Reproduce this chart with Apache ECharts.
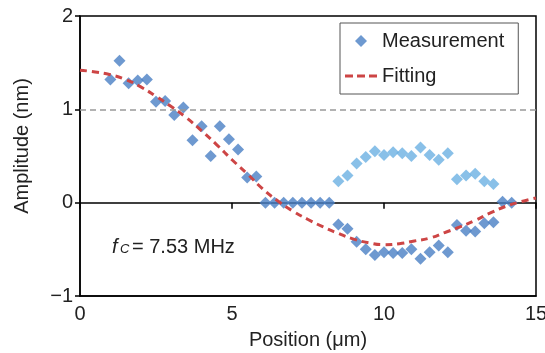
<!DOCTYPE html>
<html>
<head>
<meta charset="utf-8">
<script src="https://cdn.jsdelivr.net/npm/echarts@6/dist/echarts.min.js"></script>
<style>
  html, body { margin: 0; padding: 0; background: #fff; }
  #chart { width: 545px; height: 353px; }
</style>
</head>
<body>
<div id="chart"></div>
<script>
// measured positions (µm)
const positions = [1.0, 1.3, 1.6, 1.9, 2.2, 2.5, 2.8, 3.1, 3.4, 3.7, 4.0, 4.3, 4.6, 4.9, 5.2, 5.5, 5.8,
    6.1, 6.4, 6.7, 7.0, 7.3, 7.6, 7.9, 8.2, 8.5, 8.8, 9.1, 9.4, 9.7, 10.0, 10.3, 10.6, 10.9, 11.2,
    11.5, 11.8, 12.1, 12.4, 12.7, 13.0, 13.3, 13.6, 13.9, 14.2];
const measured = [1.32, 1.52, 1.28, 1.31, 1.32, 1.08, 1.09, 0.94, 1.02, 0.67, 0.82, 0.50, 0.82, 0.68, 0.57, 0.27, 0.28,
    0, 0, 0, 0, 0, 0, 0, 0, -0.235, -0.28, -0.42, -0.50, -0.56, -0.53, -0.54, -0.54, -0.50, -0.60,
    -0.53, -0.46, -0.53, -0.24, -0.30, -0.31, -0.22, -0.21, 0.01, 0.0];
// mirrored (light) points
const mirrorPositions = [8.5, 8.8, 9.1, 9.4, 9.7, 10.0, 10.3, 10.6, 10.9, 11.2, 11.5, 11.8, 12.1, 12.4, 12.7, 13.0, 13.3, 13.6];
const mirrored = [0.23, 0.29, 0.42, 0.49, 0.55, 0.51, 0.54, 0.53, 0.50, 0.59, 0.51, 0.46, 0.53, 0.25, 0.29, 0.31, 0.23, 0.20];
// fitting curve
const fitX = [0, 0.5, 1, 1.5, 2, 2.5, 3, 3.5, 4, 4.5, 5, 5.5, 6, 6.5, 7, 7.5, 8, 8.5, 9, 9.5, 10,
    10.5, 11, 11.5, 12, 12.5, 13, 13.5, 14, 14.5, 15];
const fitY = [1.42, 1.40, 1.37, 1.32, 1.24, 1.14, 1.03, 0.91, 0.77, 0.62, 0.46, 0.31, 0.15, 0.02, -0.09, -0.18, -0.26,
    -0.33, -0.39, -0.43, -0.45, -0.44, -0.41, -0.38, -0.32, -0.26, -0.19, -0.11, -0.04, 0.01, 0.05];
const xTicks = [0, 5, 10, 15];
const yTicks = [-1, 0, 1, 2];

const FONT = 'Liberation Sans, Arial, sans-serif';
const RED = '#CD4545';
const chart = echarts.init(document.getElementById('chart'));

const zip = (xs, ys) => xs.map((x, i) => [x, ys[i]]);

const option = {
    animation: false,
    textStyle: { fontFamily: FONT },
    grid: {
        left: 80, right: 9, top: 16, bottom: 57,
        outerBoundsMode: 'none', containLabel: false,
        show: true, borderColor: '#000', borderWidth: 1.5
    },
    legend: {
        orient: 'vertical',
        left: 340, top: 23,
        padding: [8, 14, 8, 5],
        itemWidth: 32, itemHeight: 12, itemGap: 15,
        symbolKeepAspect: true,
        borderColor: '#555', borderWidth: 1,
        textStyle: { fontSize: 20, color: '#222', fontFamily: FONT },
        data: [
            { name: 'Measurement', icon: 'path://M5,0L10,5L5,10L0,5Z' },
            // dashed line icon, three dashes
            { name: 'Fitting', icon: 'path://M0,0h8v3h-8zM12,0h8v3h-8zM24,0h8v3h-8z', itemStyle: { color: RED } }
        ]
    },
    xAxis: [{
        type: 'value', min: xTicks[0], max: xTicks[xTicks.length - 1], interval: 5,
        position: 'bottom',
        axisLine: { onZero: false, lineStyle: { color: '#000', width: 1.5 } },
        axisTick: { show: false },
        splitLine: { show: false },
        axisLabel: { fontSize: 20, color: '#222', margin: 8 },
        name: 'Position (μm)', nameLocation: 'middle', nameGap: 34,
        nameTextStyle: { fontSize: 20, color: '#222' }
    }, {
        type: 'value', min: xTicks[0], max: xTicks[xTicks.length - 1], interval: 5,
        position: 'bottom',
        axisLine: { onZero: true, lineStyle: { color: '#000', width: 1.5 } },
        axisTick: { show: true, length: 6, lineStyle: { color: '#000', width: 1.5 } },
        splitLine: { show: false },
        axisLabel: { show: false }
    }],
    yAxis: {
        type: 'value', min: yTicks[0], max: yTicks[yTicks.length - 1], interval: 1,
        axisLine: { show: true, lineStyle: { color: '#000', width: 1.5 } },
        axisTick: { show: true, length: 5, lineStyle: { color: '#000', width: 1.5 } },
        splitLine: { show: false },
        axisLabel: {
            fontSize: 20, color: '#222', margin: 7,
            formatter: v => (v < 0 ? '\u2212' + Math.abs(v) : String(v))
        },
        name: 'Amplitude (nm)', nameLocation: 'middle', nameGap: 48,
        nameTextStyle: { fontSize: 20, color: '#222', padding: [0, 0, 0, 20] }
    },
    series: [{
        name: 'Mirror',
        type: 'scatter',
        symbol: 'diamond', symbolSize: 12,
        itemStyle: { color: '#6CB0E2' },
        data: zip(mirrorPositions, mirrored),
        z: 3
    }, {
        name: 'Measurement',
        type: 'scatter',
        symbol: 'diamond', symbolSize: 12,
        itemStyle: { color: '#4A80C4' },
        data: zip(positions, measured),
        markLine: {
            silent: true, symbol: 'none', label: { show: false },
            lineStyle: { color: '#999', type: [6, 4], width: 1.5 },
            data: [{ yAxis: 1 }]
        },
        z: 3
    }, {
        name: 'Fitting',
        type: 'line',
        smooth: true, symbol: 'none', showSymbol: false,
        lineStyle: { color: RED, width: 3, type: [7, 5] },
        itemStyle: { color: RED },
        data: zip(fitX, fitY),
        z: 4
    }],
    graphic: [
        { type: 'text', left: 112, top: 237, style: { text: 'f', font: 'italic 20px ' + FONT, fill: '#222' } },
        { type: 'text', left: 120, top: 243, style: { text: 'C', font: 'italic 13px ' + FONT, fill: '#222' } },
        { type: 'text', left: 132, top: 237, style: { text: '= 7.53 MHz', font: '20px ' + FONT, fill: '#222' } }
    ]
};
chart.setOption(option);
</script>
</body>
</html>
